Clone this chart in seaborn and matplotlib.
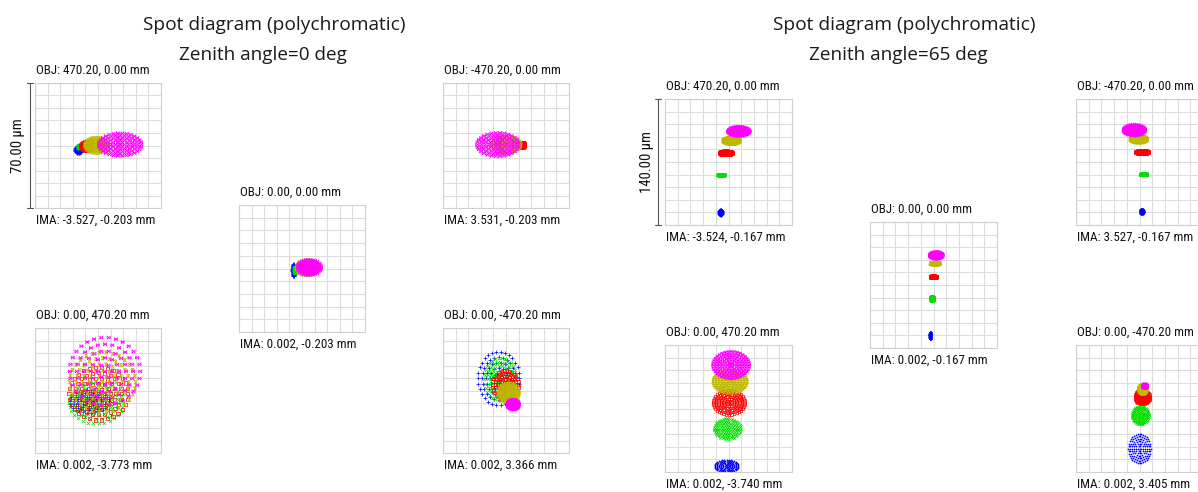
import numpy as np
import pandas as pd
import matplotlib
matplotlib.use("Agg")
import matplotlib.pyplot as plt
import seaborn as sns
from matplotlib.lines import Line2D

W, H = 1198, 492

# wavelength order as drawn (1 first, 5 on top)
wave_colors = ["#0000ff", "#00e000", "#ff0000", "#bdb800", "#ff00ff"]

# ---- zenith angle 0 deg (box = 70 um), spot centre / semi axes in um ----
obj_0 = ["OBJ: 470.20, 0.00 mm", "OBJ: 0.00, 0.00 mm", "OBJ: -470.20, 0.00 mm",
         "OBJ: 0.00, 470.20 mm", "OBJ: 0.00, -470.20 mm"]
ima_0 = ["IMA: -3.527, -0.203 mm", "IMA: 0.002, -0.203 mm", "IMA: 3.531, -0.203 mm",
         "IMA: 0.002, -3.773 mm", "IMA: 0.002, 3.366 mm"]
cx_0 = [[-10.9, -10.5, -6.7, -0.8, 12.3],
        [-4.7, -3.9, 1.4, 2.8, 4.1],
        [9.1, 9.1, 9.0, 0.2, -4.5],
        [-4.8, -1.1, 0.2, 2.6, 3.9],
        [-4.1, -3.2, -0.3, 1.5, 4.0]]
cy_0 = [[-2.3, -0.7, -0.3, 0.1, 0.5],
        [-0.9, -0.7, 0.4, 0.4, 0.6],
        [0.5, 0.5, 0.5, 0.5, 0.5],
        [-6.1, -7.0, -1.8, 4.6, 10.7],
        [6.8, 6.4, 3.3, -1.4, -7.9]]
ra_0 = [[1.8, 0.8, 3.2, 6.5, 11.8],
        [0.6, 0.8, 3.8, 5.8, 6.4],
        [0.8, 1.0, 1.4, 8.0, 11.5],
        [11.0, 15.0, 16.3, 18.3, 19.6],
        [11.5, 8.8, 7.2, 5.8, 3.1]]
rb_0 = [[2.0, 0.8, 2.4, 4.2, 6.4],
        [3.2, 1.8, 3.2, 4.1, 4.2],
        [0.8, 1.0, 1.4, 4.4, 6.6],
        [6.3, 11.5, 14.8, 16.8, 19.0],
        [15.0, 12.0, 7.9, 5.2, 2.8]]

# ---- zenith angle 65 deg (box = 140 um) ----
obj_65 = obj_0
ima_65 = ["IMA: -3.524, -0.167 mm", "IMA: 0.002, -0.167 mm", "IMA: 3.527, -0.167 mm",
          "IMA: 0.002, -3.740 mm", "IMA: 0.002, 3.405 mm"]
cx_65 = [[-8.8, -8.1, -2.9, 3.4, 11.5],
         [-3.5, -1.7, -0.1, 2.0, 3.1],
         [2.5, 4.5, 2.9, -0.7, -5.6],
         [-2.2, -1.5, 0.4, 1.8, 2.9],
         [0.0, 0.7, 3.1, 3.8, 6.0]]
cy_65 = [[-55.9, -14.3, 10.2, 23.5, 34.0],
         [-56.0, -14.8, 9.2, 23.7, 32.9],
         [-54.9, -13.6, 11.1, 25.1, 35.4],
         [-63.4, -22.1, 6.6, 29.5, 47.9],
         [-44.2, -7.4, 12.6, 21.0, 24.6]]
ra_65 = [[2.6, 4.2, 7.6, 9.7, 12.2],
         [1.2, 2.4, 3.8, 5.7, 7.4],
         [2.4, 4.2, 7.2, 9.8, 12.2],
         [13.2, 14.8, 17.4, 18.9, 20.1],
         [12.2, 9.4, 8.2, 5.0, 2.4]]
rb_65 = [[3.6, 1.3, 2.6, 4.0, 5.7],
         [4.2, 2.8, 1.4, 1.6, 4.2],
         [3.2, 1.3, 2.5, 4.0, 6.5],
         [6.7, 11.4, 13.4, 12.5, 15.1],
         [16.2, 10.2, 7.8, 5.2, 2.4]]

# box placement in pixels: left, top, width, height
boxes_0 = [(35, 83, 126, 125), (239, 205, 126, 127), (443, 83, 126, 125),
           (35, 328, 126, 125), (443, 328, 126, 125)]
boxes_65 = [(665, 99, 127, 126), (870, 222, 127, 126), (1076, 99, 127, 126),
            (665, 345, 127, 127), (1076, 345, 127, 127)]

sns.set_theme(style="white")
label_font = ["Roboto Condensed", "Liberation Sans Narrow", "Liberation Sans", "DejaVu Sans"]
title_font = ["Open Sans", "DejaVu Sans"]
plt.rcParams["font.family"] = label_font

bowtie = [(-1, -1), (-1, 1), (1, -1), (1, 1), (-1, -1)]
hourglass = [(-1, 1), (1, 1), (-1, -1), (1, -1), (-1, 1)]
markers = ["+", "x", "s", hourglass, bowtie]
open_marker = [False, False, True, True, True]


def hexapolar(rings):
    xs, ys = [0.0], [0.0]
    for n in range(1, rings + 1):
        t = np.arange(6 * n) * 2 * np.pi / (6 * n)
        xs.extend(n / rings * np.cos(t))
        ys.extend(n / rings * np.sin(t))
    return np.array(xs), np.array(ys)


def fx(x):
    return x / W


def fy(y):
    return 1 - y / H


def draw_spot(ax, cx, cy, ra, rb, half, rings, size):
    px, py = hexapolar(rings)
    for i in range(5):
        df = pd.DataFrame({"x": cx[i] + ra[i] * px, "y": cy[i] + rb[i] * py})
        kw = dict(s=size, linewidth=0.5)
        if open_marker[i]:
            kw.update(facecolor="none", edgecolor=wave_colors[i])
        sns.scatterplot(data=df, x="x", y="y", ax=ax, marker=markers[i],
                        color=wave_colors[i], legend=False, **kw)
    ticks = np.linspace(-half, half, 11)
    ax.set_xticks(ticks)
    ax.set_yticks(ticks)
    ax.set_xlim(-half, half)
    ax.set_ylim(-half, half)
    ax.tick_params(length=0, labelbottom=False, labelleft=False)
    ax.grid(True, color="#dcdcdc", linewidth=0.8)
    ax.set_axisbelow(True)
    ax.set(xlabel="", ylabel="")
    for sp in ax.spines.values():
        sp.set_color("#d0d0d0")
        sp.set_linewidth(0.8)


fig = plt.figure(figsize=(W / 100, H / 100), dpi=100)

panels = [
    (boxes_0, obj_0, ima_0, cx_0, cy_0, ra_0, rb_0, 35.0, 5, 5),
    (boxes_65, obj_65, ima_65, cx_65, cy_65, ra_65, rb_65, 70.0, 6, 3),
]
for boxes, objs, imas, cxs, cys, ras, rbs, half, rings, size in panels:
    for k, (l, t, w, h) in enumerate(boxes):
        ax = fig.add_axes([fx(l), fy(t + h), w / W, h / H])
        draw_spot(ax, cxs[k], cys[k], ras[k], rbs[k], half, rings, size)
        fig.text(fx(l + 1), fy(t - 9), objs[k], family=label_font, fontsize=9.4,
                 color="#111111", va="baseline", ha="left")
        fig.text(fx(l + 1), fy(t + h + 15.5), imas[k], family=label_font, fontsize=9.4,
                 color="#111111", va="baseline", ha="left")

# scale bars beside the first box of each panel
for bx, top, bot, lab, lx in [(30, 83, 208, "70.00 \u00b5m", 18),
                              (658, 99, 225, "140.00 \u00b5m", 647)]:
    fig.add_artist(Line2D([fx(bx), fx(bx)], [fy(top), fy(bot)], color="#555555", lw=0.8))
    for yy in (top, bot):
        fig.add_artist(Line2D([fx(bx - 3), fx(bx + 3)], [fy(yy), fy(yy)], color="#555555", lw=0.8))
    fig.text(fx(lx), fy((top + bot) / 2), lab, rotation=90, family=label_font,
             fontsize=10.5, color="#111111", ha="center", va="center")

fig.text(fx(274), fy(24.5), "Spot diagram (polychromatic)", family=title_font,
         fontsize=13.8, color="#1a1a1a", ha="center", va="center")
fig.text(fx(263), fy(55), "Zenith angle=0 deg", family=title_font,
         fontsize=13.6, color="#1a1a1a", ha="center", va="center")
fig.text(fx(904), fy(24.5), "Spot diagram (polychromatic)", family=title_font,
         fontsize=13.8, color="#1a1a1a", ha="center", va="center")
fig.text(fx(898), fy(55), "Zenith angle=65 deg", family=title_font,
         fontsize=13.6, color="#1a1a1a", ha="center", va="center")

fig.savefig("out.png", dpi=100, facecolor="white")
